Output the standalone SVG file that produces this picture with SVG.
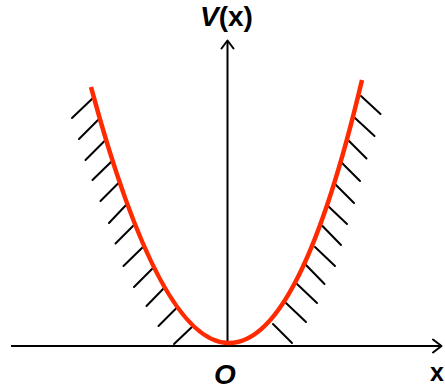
<svg xmlns="http://www.w3.org/2000/svg" width="445" height="389" viewBox="0 0 445 389">
  <style>
    .axis { stroke: #000; stroke-width: 2; fill: none; }
    .arrow { stroke: #000; stroke-width: 2; fill: none; stroke-linecap: round; stroke-linejoin: round; }
    .hatch { stroke: #000; stroke-width: 2; stroke-linecap: round; }
    .curve { stroke: #ff2a00; stroke-width: 4.5; fill: none; stroke-linecap: butt; }
    .lbl { font-family: "Liberation Sans", Arial, sans-serif; font-weight: bold; fill: #000; }
  </style>
  <rect width="445" height="389" fill="#fff"/>
  <g id="axes">
    <line class="axis" x1="11" y1="346" x2="441" y2="346"/>
    <polyline class="arrow" points="433,339.5 441.5,346 433,352.5"/>
    <line class="axis" x1="227.5" y1="346" x2="227.5" y2="41"/>
    <polyline class="arrow" points="221.5,48.5 227.5,40.5 233.5,48.5"/>
  </g>
  <g id="hatches">
    <line class="hatch" x1="93" y1="98" x2="72" y2="118"/>
    <line class="hatch" x1="98" y1="120" x2="79" y2="139"/>
    <line class="hatch" x1="104.5" y1="141" x2="85.5" y2="160"/>
    <line class="hatch" x1="111" y1="162" x2="92.5" y2="180"/>
    <line class="hatch" x1="118.5" y1="183" x2="100.5" y2="201"/>
    <line class="hatch" x1="127" y1="204" x2="109" y2="223"/>
    <line class="hatch" x1="135" y1="224" x2="115.5" y2="243.5"/>
    <line class="hatch" x1="144" y1="246" x2="123.5" y2="266"/>
    <line class="hatch" x1="154" y1="267" x2="134" y2="287"/>
    <line class="hatch" x1="165" y1="287" x2="146.5" y2="306"/>
    <line class="hatch" x1="177.5" y1="307" x2="158.5" y2="326"/>
    <line class="hatch" x1="193" y1="326" x2="174" y2="344"/>
    <line class="hatch" x1="361" y1="96" x2="380.5" y2="114"/>
    <line class="hatch" x1="355" y1="118" x2="374.5" y2="136"/>
    <line class="hatch" x1="348" y1="140" x2="366.5" y2="158.5"/>
    <line class="hatch" x1="341" y1="162" x2="360" y2="181"/>
    <line class="hatch" x1="335" y1="184" x2="354" y2="203"/>
    <line class="hatch" x1="328" y1="206" x2="347" y2="224"/>
    <line class="hatch" x1="322.5" y1="226" x2="341" y2="245"/>
    <line class="hatch" x1="315" y1="247" x2="335" y2="266"/>
    <line class="hatch" x1="306" y1="265" x2="324.5" y2="284"/>
    <line class="hatch" x1="297" y1="284" x2="317" y2="303"/>
    <line class="hatch" x1="286" y1="303" x2="306" y2="322"/>
    <line class="hatch" x1="273" y1="324" x2="292" y2="343"/>
  </g>
  <g id="curve">
    <path class="curve" d="M91,87 Q160,343 229,343 C273.3,343 317.7,267.5 362,80"/>
  </g>
  <g id="labels">
    <text class="lbl" x="200" y="26" font-size="28"><tspan font-style="italic">V</tspan>(x)</text>
    <text class="lbl" x="214" y="384" font-size="28" font-style="italic">O</text>
    <text class="lbl" x="430" y="381" font-size="25">x</text>
  </g>
</svg>
